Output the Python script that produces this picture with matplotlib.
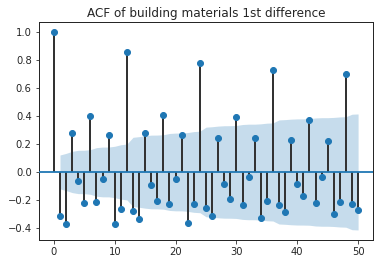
import numpy as np
import matplotlib
matplotlib.use("Agg")
import matplotlib.pyplot as plt

title = "ACF of building materials 1st difference"
lags = list(range(0, 51))
acf_values = [
    1.000, -0.317, -0.374, 0.276, -0.067, -0.224, 0.398, -0.217, -0.052, 0.262,
    -0.374, -0.267, 0.855, -0.281, -0.338, 0.276, -0.095, -0.210, 0.405, -0.231,
    -0.052, 0.262, -0.367, -0.231, 0.776, -0.260, -0.317, 0.240, -0.088, -0.195,
    0.390, -0.238, -0.038, 0.240, -0.331, -0.210, 0.726, -0.238, -0.288, 0.226,
    -0.088, -0.174, 0.369, -0.224, -0.038, 0.219, -0.302, -0.217, 0.698, -0.231,
    -0.274,
]
nobs = 262
xticks = [0, 10, 20, 30, 40, 50]
yticks = [-0.4, -0.2, 0.0, 0.2, 0.4, 0.6, 0.8, 1.0]

lag_arr = np.array(lags, dtype=float)
acf_arr = np.array(acf_values)

# Bartlett confidence band (as statsmodels plot_acf)
varacf = np.ones(len(acf_arr)) / nobs
varacf[0] = 0
varacf[1] = 1.0 / nobs
varacf[2:] *= 1 + 2 * np.cumsum(acf_arr[1:-1] ** 2)
band = 1.959964 * np.sqrt(varacf)

W, H, DPI = 383, 264, 72
fig = plt.figure(figsize=(W / DPI, H / DPI), dpi=DPI)
ax = fig.add_axes([38.7 / W, 1 - 240 / H, (373.3 - 38.7) / W, (240 - 22.3) / H])

text_c = "#262626"
ax.vlines(lag_arr, [0], acf_arr, colors="#333333", linewidth=2.0, zorder=2)
ax.axhline(0, color="#1f77b4", linewidth=1.8, zorder=3)
ax.plot(lag_arr, acf_arr, marker="o", markersize=6, linestyle="None", color="#1f77b4", zorder=4)

ax.fill_between(lag_arr[1:], -band[1:], band[1:], color="#1f77b4", alpha=0.25, linewidth=0, zorder=1)

ax.set_xlim(-2.5, 52.5)
ax.set_ylim(-0.486, 1.069)
ax.set_xticks(xticks)
ax.set_yticks(yticks)
ax.set_yticklabels([f"{v:.1f}".replace("-", "\u2212") for v in yticks])
ax.tick_params(colors=text_c, labelsize=10, length=3.5, width=0.8)
for s in ax.spines.values():
    s.set_color(text_c)
    s.set_linewidth(1.0)
ax.set_title(title, fontsize=12, color=text_c, pad=5)

fig.savefig("out.png", dpi=DPI)
